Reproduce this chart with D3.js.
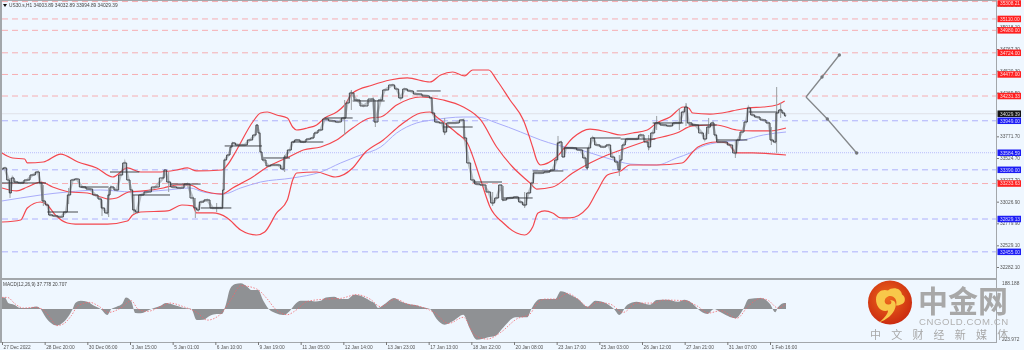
<!DOCTYPE html>
<html>
<head>
<meta charset="utf-8">
<script src="https://cdnjs.cloudflare.com/ajax/libs/d3/7.8.5/d3.min.js"></script>
<style>
  html, body { margin: 0; padding: 0; background: #fff; }
  svg { display: block; filter: blur(0.35px); }
  text { font-family: "Liberation Sans", sans-serif; }
</style>
</head>
<body>
<div id="chart"></div>
<script>
const closeBars = [0,2,5,6,8,10,14,19,23,27,29,31,34,36,40,44,48,50,53,56,60,66,70,74,75,79,80,82,86,89,92,95,97,99,101,104,109,115,121,122,125,128,134,139,143,145,147,149,154,158,161,165,166,167,170,172,173,177,182,186,190,191,193,194,196,200,203,207,211,212,216,218,221,226,230,233,235,239,242,248,252,257,259,262,266,271,278,280,284,287,293,296,299,302,306,311,319,322,323,326,330,332,335,340,346,347,350,353,356,361,365,368,371,374,376,381,386,389,392,395,398,399,404,409,413,416,417,419,421,423,428,434,437,439,440,443,446,451,455,458,461,463,464,466,469,476,479,484,485,488,491,496,501,505,508,511,513,515,520,525,527,530,533,535,537,542,546,550,552,555,558,560,563,566,571,575,577,580,581,584,586,588]
const closes = [33399,33411,33274,33126,33297,33251,33240,33274,33331,33365,33240,33035,32989,32875,32864,32852,32909,33103,33274,33285,33194,33171,33103,33057,32955,32898,33103,33194,33160,33331,33468,33274,33160,32932,32909,33103,33137,33194,33297,33388,33251,33194,33183,33228,33069,32955,32932,33023,33046,32955,32955,32955,33160,33502,33559,33650,33696,33673,33673,33730,33787,33901,33810,33593,33502,33434,33445,33445,33399,33536,33616,33707,33730,33707,33741,33753,33810,33844,33969,33947,33935,33981,34152,34266,34186,34118,34197,33935,34186,34300,34357,34311,34209,34311,34289,34254,34232,34209,34038,33935,33924,33821,33924,33924,33958,33753,33468,33274,33228,33217,33137,33012,33069,33217,33046,33069,33080,33023,32989,33126,33240,33354,33354,33365,33388,33502,33696,33707,33536,33639,33639,33616,33525,33411,33639,33753,33673,33650,33673,33536,33479,33388,33502,33673,33741,33741,33787,33707,33650,33810,33924,33901,33890,33924,33924,34049,34106,33924,33901,33810,33741,33878,33924,33787,33707,33707,33673,33582,33730,33821,33935,34095,34015,33992,33958,33924,33730,33707,34038,34072,34038,34004]

const wickBars = [6,31,50,75,80,99,125,145,161,212,257,262,280,332,368,376,392,417,439,463,485,491,508,513,530,550,577,581,584]
const wickHighs = [33297,33217,33183,33046,33183,33103,33365,33069,33012,33559,34186,34300,34186,33981,33137,33206,33137,33776,33639,33559,33787,34004,34095,34152,33981,33730,33878,34334,34152]
const wickLows = [33069,32978,33000,32864,32852,32886,33137,32841,32909,33365,33787,34072,33878,33787,32978,33035,32955,33502,33388,33320,33616,33844,33844,33890,33798,33525,33673,33582,33981]

// short dark horizontal segments on the price pane
const segmentStarts = [0,34,59,81,98,126,149,167,196,218,242,263,311,331,353,376,398,421,443,464,488,515,536,560]
const segmentEnds = [33,57,80,103,126,149,172,195,216,241,263,287,329,353,375,398,421,440,464,490,511,536,559,581]
const segmentPrices = [33240,32909,33194,33365,33103,33228,32955,33662,33525,33707,33981,34175,34289,33878,33251,33069,33377,33639,33753,33741,33924,33901,33730,34049]

// bollinger bands
const upperBars = [0,8,17,19,31,44,57,71,83,94,104,116,131,139,146,165,169,176,188,194,199,206,214,218,221,229,236,242,251,257,263,278,291,304,321,329,338,347,353,365,371,381,391,398,401,404,416,428,441,454,464,473,484,491,501,511,515,518,531,544,551,560,571,581,587]
const upperBand = [33582,33525,33513,33468,33479,33570,33479,33411,33308,33411,33365,33365,33388,33411,33377,33388,33445,33616,33935,34038,34049,34015,33981,33878,33844,33867,33901,33981,34049,34129,34266,34357,34414,34437,34391,34471,34505,34460,34528,34528,34414,34186,33958,33650,33502,33445,33536,33753,33855,33821,33787,33810,33844,33924,33992,34106,34095,34038,34026,34049,34072,34095,34106,34129,34175]
const middleBars = [0,11,19,29,38,51,64,74,80,86,95,106,121,131,141,149,165,173,188,199,215,226,239,251,263,276,284,296,314,331,346,359,371,383,396,401,413,428,441,454,464,486,506,518,536,551,563,576,588]
const middleBand = [33183,33149,33194,33251,33194,33137,33126,33080,33057,33069,33137,33149,33183,33217,33217,33160,33114,33183,33308,33422,33536,33616,33650,33730,33867,33981,33992,34129,34220,34186,34106,33958,33650,33422,33240,33171,33194,33354,33468,33559,33616,33730,33810,33890,33901,33844,33833,33833,33867]
const lowerBars = [0,14,19,29,34,40,49,55,79,94,98,104,124,135,143,146,158,169,179,191,197,206,214,218,221,236,250,263,272,286,299,314,321,326,341,349,359,366,376,386,392,398,402,407,413,419,426,439,446,454,464,471,491,510,518,522,536,544,551,563,588]
const lowerBand = [32795,32818,32955,33023,32989,32875,32784,32772,32772,32807,32875,32909,32921,32989,32978,32898,32898,32841,32704,32647,32681,32898,33046,33274,33354,33365,33308,33411,33582,33730,33901,34038,34049,33992,33810,33696,33274,32966,32784,32670,32647,32738,32898,32921,32898,32841,32841,32955,33137,33331,33377,33445,33445,33468,33593,33650,33707,33696,33582,33582,33559]

// moving average (blue)
const maBars = [0,14,29,49,74,98,124,141,151,166,179,194,218,239,254,269,284,296,311,323,346,356,371,389,404,416,434,451,464,471,491,506,516,524,539,556,571,588]
const maValues = [33035,33069,33103,33137,33160,33137,33160,33183,33137,33114,33183,33251,33297,33365,33468,33559,33650,33810,33924,33958,33992,33992,33924,33821,33730,33673,33616,33536,33479,33456,33445,33525,33582,33650,33707,33730,33787,33821]

// macd pane
const histBars = [0,2,5,9,14,19,26,29,32,36,41,46,51,53,55,59,64,69,74,79,82,86,90,93,97,100,104,109,114,119,123,129,137,142,146,151,156,161,165,168,171,175,179,184,187,192,196,200,205,211,216,220,224,229,235,239,243,249,254,259,264,269,276,280,282,287,294,299,305,312,314,321,326,332,338,346,351,356,364,370,376,385,394,397,400,404,415,419,426,432,439,445,454,459,463,469,476,486,491,499,507,512,519,522,529,534,539,550,556,560,569,576,580,582,587,588]
const histValues = [84,84,41,31,7,7,19,0,-48,-96,-120,-96,-36,0,43,60,53,24,0,-43,0,17,36,84,55,-29,-31,-12,7,24,43,29,7,0,-80,-77,-48,-36,-36,36,145,181,186,161,137,137,60,0,-29,-43,-12,36,60,60,55,60,84,89,72,72,104,96,60,36,7,36,80,55,36,24,17,0,-72,-113,-89,-41,-145,-222,-205,-193,-133,-60,-60,0,48,72,72,128,104,72,17,60,36,0,-43,31,53,31,65,67,53,67,29,0,-36,0,-24,-67,0,72,80,36,-24,12,43,43]
const signalBars = [0,4,10,16,24,30,36,41,46,52,57,66,72,80,89,97,102,109,119,126,136,146,154,164,172,179,191,199,205,214,220,229,243,254,266,276,284,295,304,314,324,335,346,355,364,374,386,396,401,407,416,424,432,440,446,456,466,476,489,496,512,521,530,539,551,560,569,575,582,588]
const signalValues = [84,84,36,7,12,0,-60,-120,-108,-48,24,48,24,-24,7,60,0,-17,17,43,17,-24,-80,-36,72,169,145,72,0,-41,-12,55,72,77,104,72,17,72,36,17,-24,-104,-60,-193,-217,-169,-72,-36,36,72,72,113,72,12,48,36,-24,43,43,65,60,24,-29,-12,-67,24,77,60,7,36]

// horizontal levels
const redLevels = [35308.21,35110,34980,34724,34477,34231.33,33233.63]
const blueLevels = [33949,33390,32829.13,32455]
const dottedLevel = 33584.59
const lastPrice = 34029.39

const priceTicks = [35265.1,35018.1,34767.3,34520.3,34269.5,33771.7,33524.7,33277.7,33026.9,32779.9,32529.1,32282.1]
const timeTicks = ['27 Dec 2022','28 Dec 20:00','30 Dec 06:00','3 Jan 15:00','5 Jan 01:00','6 Jan 10:00','9 Jan 19:00','11 Jan 05:00','12 Jan 14:00','13 Jan 23:00','17 Jan 13:00','18 Jan 22:00','20 Jan 08:00','23 Jan 17:00','25 Jan 03:00','26 Jan 12:00','27 Jan 21:00','31 Jan 07:00','1 Feb 16:00']
const barsPerTick = 32

// forecast arrows: apex, then midpoint and end of each leg
const arrowBars = [603,615,628]
const arrowUp = [34220,34448,34699]
const arrowBarsDown = [603,619,641]
const arrowDown = [34220,33969,33582]

const width = 1024
const height = 352
const bgColor = '#eff7ff'
const frameColor = '#a3a7ab'
const labelSize = 4.8
const panelRight = 997
const priceBottom = 278
const macdBottom = 342

const svg = d3.select('#chart').append('svg').attr('width', width).attr('height', height)

const defs = svg.append('defs')
defs.append('clipPath').attr('id', 'clip-price').append('rect')
  .attr('x', 2).attr('y', 0).attr('width', panelRight - 2).attr('height', priceBottom)
const logoGrad = defs.append('radialGradient').attr('id', 'logo-grad').attr('cx', '45%').attr('cy', '40%').attr('r', '65%')
logoGrad.append('stop').attr('offset', '0%').attr('stop-color', '#ee6a1c')
logoGrad.append('stop').attr('offset', '100%').attr('stop-color', '#c8260f')

svg.append('rect').attr('width', width).attr('height', height).attr('fill', '#fff')
svg.append('rect').attr('width', width).attr('height', 350).attr('fill', bgColor)

const xScale = d3.scaleLinear().domain([0, 588]).range([2, 786])
const yScale = d3.scaleLinear().domain([35325.9, 32282.1]).range([0, 267])
const macdScale = d3.scaleLinear().domain([188.188, -223.972]).range([283, 340])

const zipBars = (bars, values) => bars.map((b, i) => [b, values[i]])

const price = svg.append('g').attr('clip-path', 'url(#clip-price)')

const drawLevel = (p, color, dash) => price.append('line')
  .attr('x1', 2).attr('x2', panelRight)
  .attr('y1', yScale(p)).attr('y2', yScale(p))
  .attr('stroke', color).attr('stroke-dasharray', dash)

redLevels.forEach(p => drawLevel(p, '#f6aeb2', '6,4'))
blueLevels.forEach(p => drawLevel(p, '#aeb0fb', '6,4'))
drawLevel(dottedLevel, '#b9bcfb', '1,1')
drawLevel(lastPrice, '#dfe2e8', null)

const line = d3.line().x(d => xScale(d[0])).y(d => yScale(d[1]))
const stepped = d3.line().x(d => xScale(d[0])).y(d => yScale(d[1])).curve(d3.curveStep)
const smooth = d3.line().x(d => xScale(d[0])).y(d => yScale(d[1])).curve(d3.curveMonotoneX)

price.append('path').attr('d', smooth(zipBars(maBars, maValues)))
  .attr('fill', 'none').attr('stroke', '#a9acfa').attr('stroke-width', 1)

;[[upperBars, upperBand], [middleBars, middleBand], [lowerBars, lowerBand]].forEach(([bars, vals]) => {
  price.append('path').attr('d', smooth(zipBars(bars, vals)))
    .attr('fill', 'none').attr('stroke', '#f4474e').attr('stroke-width', 1.2)
})

price.selectAll('line.wick').data(wickBars).join('line')
  .attr('class', 'wick')
  .attr('x1', d => xScale(d)).attr('x2', d => xScale(d))
  .attr('y1', (d, i) => yScale(wickHighs[i])).attr('y2', (d, i) => yScale(wickLows[i]))
  .attr('stroke', '#9a9ea2').attr('stroke-width', 1)

price.append('path').attr('d', line(zipBars(closeBars, closes)))
  .attr('fill', 'none').attr('stroke', '#8d9296').attr('stroke-opacity', 0.55).attr('stroke-width', 2.4)
price.append('path').attr('d', stepped(zipBars(closeBars, closes)))
  .attr('fill', 'none').attr('stroke', '#33363a').attr('stroke-width', 0.9)

price.selectAll('line.segment').data(segmentPrices).join('line')
  .attr('class', 'segment')
  .attr('x1', (d, i) => xScale(segmentStarts[i])).attr('x2', (d, i) => xScale(segmentEnds[i]))
  .attr('y1', d => yScale(d)).attr('y2', d => yScale(d))
  .attr('stroke', '#33363a').attr('stroke-width', 0.9)

// forecast arrows
const drawArrow = (bars, values) => {
  const pts = zipBars(bars, values)
  price.append('path').attr('d', line(pts)).attr('fill', 'none').attr('stroke', '#85888b').attr('stroke-width', 1.3)
  price.selectAll(null).data(pts.slice(1)).join('circle')
    .attr('cx', d => xScale(d[0])).attr('cy', d => yScale(d[1])).attr('r', 1.7)
    .attr('fill', '#74777b')
}
drawArrow(arrowBars, arrowUp)
drawArrow(arrowBarsDown, arrowDown)

// frame
const rule = (x, y, w, h) => svg.append('rect').attr('x', x).attr('y', y).attr('width', w).attr('height', h).attr('fill', frameColor)
rule(0, 0, 2, macdBottom + 1)
rule(0, 0, panelRight, 1)
rule(0, priceBottom, panelRight, 2)
rule(panelRight - 1, 0, 1, macdBottom + 1)
rule(0, macdBottom, panelRight, 1)

// macd pane
const histArea = d3.area().x(d => xScale(d[0])).y0(macdScale(0)).y1(d => macdScale(d[1])).curve(d3.curveMonotoneX)
svg.append('path').attr('d', histArea(zipBars(histBars, histValues))).attr('fill', '#8f9194')
svg.append('path').attr('d', smooth.y(d => macdScale(d[1]))(zipBars(signalBars, signalValues)))
  .attr('fill', 'none').attr('stroke', '#f1666c').attr('stroke-width', 0.8).attr('stroke-dasharray', '1.5,1.5')

// price axis
const yAxis = d3.axisRight(yScale).tickValues(priceTicks).tickFormat(d3.format('.2f')).tickSize(2).tickPadding(1)
const yAxisG = svg.append('g').attr('transform', `translate(${panelRight},0)`).call(yAxis)
yAxisG.select('.domain').remove()
yAxisG.selectAll('line').attr('stroke', '#777')
yAxisG.selectAll('text').attr('fill', '#555').attr('font-size', labelSize).attr('font-family', '"Liberation Sans", sans-serif')

// coloured price tags
const tags = [
  ...redLevels.map(p => ({ p, fill: '#ff1f1f', text: '#ffd9d9' })),
  ...blueLevels.map(p => ({ p, fill: '#1c1cf5', text: '#d9d9ff' })),
  { p: dottedLevel, fill: '#1c1cf5', text: '#d9d9ff' },
  { p: lastPrice, fill: '#141414', text: '#dddddd' },
]
const tagG = svg.append('g').selectAll('g').data(tags).join('g')
  .attr('transform', d => `translate(${panelRight},${Math.max(yScale(d.p), 3.5)})`)
tagG.append('rect').attr('x', 0.5).attr('y', -3.25).attr('width', 23.5).attr('height', 6.5).attr('fill', d => d.fill)
tagG.append('text').attr('x', 3).attr('y', 1.8).attr('font-size', labelSize).attr('fill', d => d.text)
  .text(d => d.p.toFixed(2))

// time axis
const xAxis = d3.axisBottom(xScale)
  .tickValues(timeTicks.map((t, i) => i * barsPerTick))
  .tickFormat((d, i) => timeTicks[i]).tickSize(3)
const xAxisG = svg.append('g').attr('transform', `translate(0,${macdBottom})`).call(xAxis)
xAxisG.select('.domain').remove()
xAxisG.selectAll('line').attr('stroke', '#777')
xAxisG.selectAll('text').attr('fill', '#555').attr('font-size', labelSize).attr('text-anchor', 'start')
  .attr('x', 1).attr('y', 3.5).attr('dy', '0.71em').attr('font-family', '"Liberation Sans", sans-serif')

// macd axis end labels
svg.append('text').attr('x', 1002).attr('y', 285).attr('font-size', labelSize).attr('fill', '#555').text('188.188')
svg.append('text').attr('x', 1002).attr('y', 341).attr('font-size', labelSize).attr('fill', '#555').text('223.972')

// header labels
svg.append('path').attr('d', 'M3,4 L7,4 L5,7 Z').attr('fill', '#111')
svg.append('text').attr('x', 9).attr('y', 7).attr('font-size', labelSize).attr('fill', '#444')
  .text('US30.s,H1  34003.89 34032.89 33994.89 34029.39')
svg.append('text').attr('x', 3).attr('y', 285.5).attr('font-size', 4.7).attr('fill', '#444')
  .text('MACD(12,26,9) 37.778 20.707')

// watermark
const logo = svg.append('g').attr('transform', 'translate(890,302.5)')
logo.append('circle').attr('r', 22).attr('fill', 'url(#logo-grad)')
logo.append('path')
  .attr('d', 'M-14,-3 C-14,-11 -7,-14 -2,-12 C2,-16 11,-15 12,-8 C16,-6 16,1 11,2 C9,3 7,3 6,3 C8,-3 3,-8 -2,-6 C-7,-4 -6,3 -1,2 C2,2 2,-2 0,-2 C5,-3 7,2 5,6 C3,12 -3,17 -11,20 C-5,15 -2,11 -2,8 C-9,10 -14,4 -14,-3 Z')
  .attr('fill', '#f8c84a')

svg.append('text').attr('x', 963).attr('y', 312).attr('text-anchor', 'middle')
  .attr('font-size', 30).attr('font-weight', 700).attr('fill', '#a8a8a8')
  .style('font-family', '"Noto Sans CJK SC", sans-serif').text('中金网')
svg.append('text').attr('x', 919).attr('y', 325).attr('font-size', 9.6).attr('letter-spacing', 0.55)
  .attr('fill', '#b2b2b2').text('CNGOLD.COM.CN')
svg.append('text').attr('x', 870).attr('y', 339).attr('font-size', 11).attr('letter-spacing', 10.2)
  .attr('fill', '#a8a8a8').style('font-family', '"Noto Sans CJK SC", sans-serif').text('中文财经新媒体')
</script>
</body>
</html>
